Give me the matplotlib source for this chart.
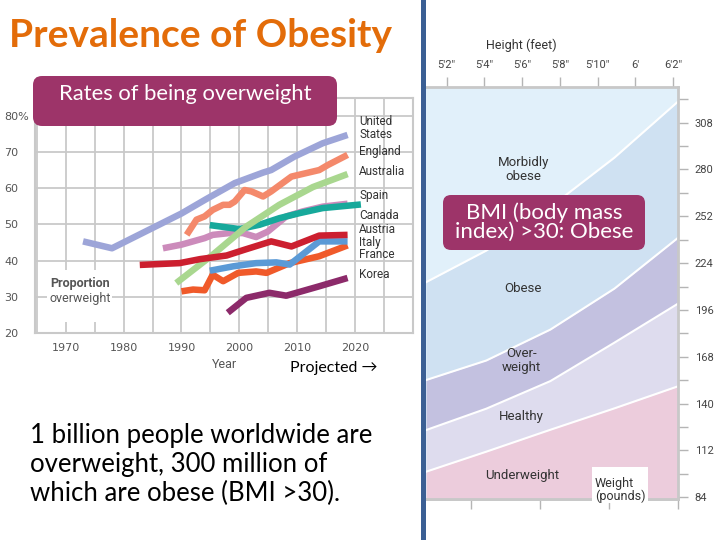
import matplotlib.pyplot as plt
from matplotlib.patches import FancyBboxPatch, Rectangle

plt.rcParams['font.family'] = ['Lato', 'DejaVu Sans']

# ---- rates of being overweight (% of adults) ----
us_years = [1973, 1978, 1985, 1990, 1994.3, 1999.2, 2004.1, 2005.5, 2009.5, 2014.4, 2018.7]
us_vals = [45.3, 43.4, 49.0, 53.0, 57.0, 61.4, 64.3, 65.0, 68.7, 72.4, 74.7]

eng_years = [1990.9, 1992.6, 1994, 1995.4, 1997.2, 1998.3, 1999.2, 2000.9, 2002.1,
             2004.1, 2005.5, 2009, 2013.8, 2015.3, 2018.7]
eng_vals = [47.1, 51.3, 52.2, 54.0, 55.4, 55.4, 56.3, 59.5, 59.1,
            57.7, 59.1, 63.2, 65.0, 66.4, 69.2]

aus_years = [1989.1, 1995.4, 2001.2, 2006.9, 2012.7, 2018.7]
aus_vals = [33.8, 41.6, 49.4, 55.4, 60.3, 63.9]

spa_years = [1986.8, 1990, 1992, 1994, 1995.4, 1998.3, 2000.6, 2002.9, 2004.9,
             2008.1, 2011, 2014.4, 2018.7]
spa_vals = [43.4, 44.4, 45.3, 46.2, 47.1, 47.6, 47.6, 46.5, 48.0,
            52.2, 53.6, 54.9, 55.7]

can_years = [1994.9, 2000, 2003.5, 2006.9, 2010.4, 2014.4, 2021]
can_vals = [49.8, 48.7, 49.9, 51.7, 53.1, 54.5, 55.5]

aut_years = [1982.8, 1989.7, 1993.2, 1997.8, 2000.9, 2005.5, 2009, 2013.8, 2018.7]
aut_vals = [38.8, 39.3, 40.4, 41.4, 43.0, 45.3, 43.9, 46.9, 47.1]

ita_years = [1994.9, 1998.9, 2002.9, 2006.4, 2008.7, 2013.8, 2018.7]
ita_vals = [37.2, 38.4, 39.3, 39.5, 38.9, 45.3, 45.3]

fra_years = [1990, 1992, 1994, 1995.4, 1997.2, 1999.8, 2002.9, 2004.7, 2008.7, 2013.8, 2018.7]
fra_vals = [31.5, 32.0, 31.8, 36.1, 34.3, 36.6, 37.0, 36.6, 39.3, 41.2, 44.2]

kor_years = [1998, 2001.2, 2005.2, 2008.1, 2013.8, 2018.7]
kor_vals = [25.6, 29.7, 31.1, 30.3, 32.9, 35.2]

country_names = ['United\nStates', 'England', 'Australia', 'Spain', 'Canada',
                 'Austria', 'Italy', 'France', 'Korea']
country_label_y = [76.6, 70.2, 64.6, 58.0, 52.5, 48.7, 45.0, 41.6, 36.1]

# ---- BMI chart: band boundaries (weight in pounds at given heights in inches) ----
heights = [60.9, 64.1, 67.5, 70.9, 74.3]
under_top = [99.3, 111.3, 124.4, 137.2, 150.5]
healthy_top = [124.2, 137.0, 153.5, 176.5, 200.0]
over_top = [154.1, 165.8, 184.3, 208.8, 239.4]
obese_top = [212.6, 231.5, 257.6, 287.1, 320.9]

height_ticks = [62, 64, 66, 68, 70, 72, 74]
height_labels = ['5\u20322\u2033', '5\u20324\u2033', '5\u20326\u2033', '5\u20328\u2033',
                 '5\u203210\u2033', '6\u2032', '6\u20322\u2033']
weight_ticks = [84, 112, 140, 168, 196, 224, 252, 280, 308]
weight_minor = [98, 126, 154, 182, 210, 238, 266, 294, 322]
bottom_ticks = [63.3, 66.95, 70.6, 74.25]

grid_c = '#c9c9c9'
chart_font = ['DejaVu Sans']
bmi_font = ['Roboto', 'DejaVu Sans']

fig = plt.figure(figsize=(7.2, 5.4), dpi=100)

# ---------------- left line chart ----------------
ax = fig.add_axes([35 / 720, 1 - 333 / 540, 378 / 720, 235 / 540])
ax.set_xlim(1964.7, 2029.9)
ax.set_ylim(20, 84.9)
ax.set_xticks(range(1970, 2021, 10))
ax.set_xticks(range(1965, 2031, 5), minor=True)
ax.set_yticks(range(20, 81, 10))
ax.set_yticklabels(['20', '30', '40', '50', '60', '70', '80%'])
ax.grid(which='both', color=grid_c, lw=1.3)
ax.set_axisbelow(True)
for s in ax.spines.values():
    s.set_color(grid_c)
    s.set_linewidth(1.5)
ax.tick_params(which='both', length=0, labelsize=8, labelcolor='#555')
ax.tick_params(axis='x', pad=7)
ax.tick_params(axis='y', pad=22)
for t in ax.get_yticklabels():
    t.set_horizontalalignment('left')
for t in ax.get_xticklabels() + ax.get_yticklabels():
    t.set_family(chart_font)

series = [
    (kor_years, kor_vals, '#8c2a6a'),
    (fra_years, fra_vals, '#f05a2a'),
    (ita_years, ita_vals, '#5b9ad6'),
    (spa_years, spa_vals, '#cc8bbb'),
    (can_years, can_vals, '#17a99b'),
    (aus_years, aus_vals, '#a9d78f'),
    (aut_years, aut_vals, '#cc1f2f'),
    (eng_years, eng_vals, '#f4896b'),
    (us_years, us_vals, '#9da5d8'),
]
for xs, ys, c in series:
    ax.plot(xs, ys, color=c, lw=4.7, solid_capstyle='butt', solid_joinstyle='round')

for name, y in zip(country_names, country_label_y):
    ax.text(2020.7, y, name, fontsize=8.5, color='#333', va='center', ha='left',
            linespacing=0.95, family=['Roboto', 'DejaVu Sans'], clip_on=False)

ax.add_patch(Rectangle((1966.8, 22.9), 11.2, 14.6, fc='white', ec='none', zorder=1.5))
ax.text(1972.5, 33.8, 'Proportion', ha='center', va='center', fontsize=9,
        color='#555', fontweight='semibold', family=['Roboto', 'DejaVu Sans'])
ax.text(1972.5, 29.4, 'overweight', ha='center', va='center', fontsize=9,
        color='#555', family=['Roboto', 'DejaVu Sans'])

# ---------------- BMI chart ----------------
bx = fig.add_axes([426 / 720, 1 - 499 / 540, 252 / 720, 412.3 / 540])
bx.set_xlim(60.9, 74.27)
bx.set_ylim(83.0, 329.5)
bx.set_facecolor('#e1f0fa')
bx.fill_between(heights, over_top, obese_top, color='#cfe1f2', lw=0)
bx.fill_between(heights, healthy_top, over_top, color='#c3c1e0', lw=0)
bx.fill_between(heights, under_top, healthy_top, color='#dedcee', lw=0)
bx.fill_between(heights, 0, under_top, color='#ecccdc', lw=0)
for b in [under_top, healthy_top, over_top, obese_top]:
    bx.plot(heights, b, color='white', lw=1.5)

band_labels = [('Morbidly\nobese', 66.06, 279.7), ('Obese', 66.06, 209.0),
               ('Over-\nweight', 65.98, 166.0), ('Healthy', 65.98, 132.2),
               ('Underweight', 65.98, 97.3)]
for txt, hx, wy in band_labels:
    bx.text(hx, wy, txt, ha='center', va='center', fontsize=9.5, color='#333',
            linespacing=1.1, family=bmi_font)

bx.xaxis.tick_top()
bx.set_xticks(height_ticks)
bx.set_xticklabels(height_labels)
bx.tick_params(axis='x', length=7, width=1, color='#b5b5b5', labelsize=8,
               labelcolor='#444', pad=5)
bx.yaxis.tick_right()
bx.set_yticks(weight_ticks)
bx.set_yticks(weight_minor, minor=True)
bx.tick_params(axis='y', which='both', length=7, width=1, color='#b5b5b5',
               labelsize=8, labelcolor='#444', pad=5)
sec = bx.secondary_xaxis('bottom')
sec.set_xticks(bottom_ticks)
sec.tick_params(length=7, width=1, color='#b5b5b5', labelbottom=False)
sec.spines['bottom'].set_color('#c8c8c8')
sec.spines['bottom'].set_linewidth(2)
for side in ['top', 'right', 'bottom']:
    bx.spines[side].set_color('#c8c8c8')
    bx.spines[side].set_linewidth(2)
bx.spines['left'].set_visible(False)
for t in bx.get_xticklabels() + bx.get_yticklabels():
    t.set_family(bmi_font)

# ---------------- slide overlay ----------------
ov = fig.add_axes([0, 0, 1, 1])
ov.set_xlim(0, 720)
ov.set_ylim(540, 0)
ov.axis('off')

ov.text(9, 47, 'Prevalence of Obesity', fontsize=28, fontweight='bold',
        color='#e36c09', va='baseline', ha='left')

ov.add_patch(FancyBboxPatch((33, 76), 304, 50, boxstyle='round,pad=0,rounding_size=9',
                            fc='#9d3469', ec='none'))
ov.text(185, 93.5, 'Rates of being overweight', fontsize=15.8, color='white',
        ha='center', va='center')

ov.add_patch(Rectangle((421, 0), 5, 540, fc='#3b5f94', ec='none'))

ov.add_patch(FancyBboxPatch((443, 195), 202, 55, boxstyle='round,pad=0,rounding_size=8',
                            fc='#9d3469', ec='none'))
ov.text(544, 222.5, 'BMI (body mass\nindex) >30: Obese', fontsize=16, color='white',
        ha='center', va='center', linespacing=0.92)

ov.text(521.7, 45, 'Height (feet)', fontsize=9, color='#333', ha='center',
        va='center', family=bmi_font)

ov.add_patch(Rectangle((592, 466.7), 56, 36.6, fc='white', ec='none'))
ov.text(595, 490, 'Weight\n(pounds)', fontsize=9, color='#333', ha='left',
        va='center', linespacing=1.0, family=bmi_font)

ov.text(225, 365, 'Year', fontsize=9, color='#555', ha='center', va='center',
        family=['Roboto', 'DejaVu Sans'])
ov.text(290, 368, 'Projected \u2192', fontsize=11.5, color='black', ha='left',
        va='center')

ov.text(30, 423, '1 billion people worldwide are\noverweight, 300 million of\n'
        'which are obese (BMI >30).', fontsize=18.5, color='black', ha='left',
        va='top', linespacing=1.2)

fig.savefig('out.png', dpi=100)
